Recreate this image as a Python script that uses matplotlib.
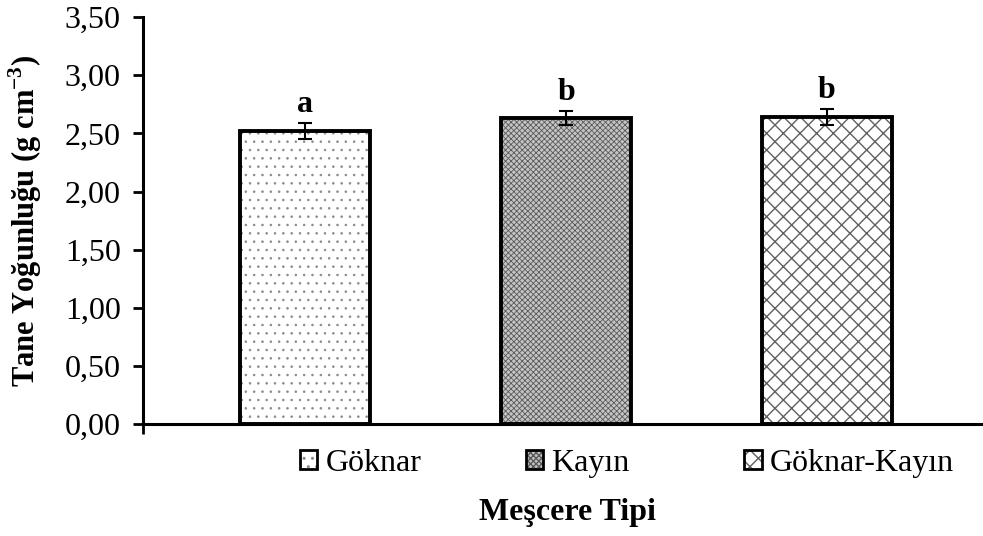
import matplotlib
matplotlib.use("Agg")
import matplotlib.pyplot as plt
from matplotlib.patches import Patch
from matplotlib.legend_handler import HandlerTuple

plt.rcParams['font.family'] = ['Liberation Serif', 'DejaVu Serif']
plt.rcParams['mathtext.fontset'] = 'custom'
plt.rcParams['mathtext.rm'] = 'Liberation Serif'
plt.rcParams['mathtext.bf'] = 'Liberation Serif:bold'

types = ['Göknar', 'Kayın', 'Göknar-Kayın']
density = [2.52, 2.63, 2.64]
err = [0.07, 0.06, 0.07]
letters = ['a', 'b', 'b']

# fill styles per stand type: face, hatch, hatch colour, hatch width
faces = ['white', '#c4c4c4', 'white']
hatches = ['..', 'xxxxxx', 'xx']
hatch_cols = ['#8a8a8a', '#5a5a5a', '#606060']
hatch_lws = [0.6, 0.6, 1.0]

fs = 23

fig = plt.figure(figsize=(9.83, 5.36), dpi=100)
ax = fig.add_axes([0.1455, 0.209, 0.8545, 0.759])

x = list(range(len(types)))
handles = []
for i in x:
    with plt.rc_context({'hatch.linewidth': hatch_lws[i]}):
        fill = ax.bar(x[i], density[i], width=0.5, color=faces[i], hatch=hatches[i],
                      edgecolor=hatch_cols[i], linewidth=0, zorder=2)
        for p in fill:
            if hasattr(p, 'set_hatch_linewidth'):
                p.set_hatch_linewidth(hatch_lws[i])
        h1 = Patch(facecolor=faces[i], hatch=hatches[i], edgecolor=hatch_cols[i], linewidth=0)
    ax.bar(x[i], density[i], width=0.5, color='none', edgecolor='black', linewidth=2.8, zorder=3)
    h2 = Patch(facecolor='none', edgecolor='black', linewidth=2.0)
    handles.append((h1, h2))

ax.errorbar(x, density, yerr=err, fmt='none', ecolor='black', elinewidth=1.5,
            capsize=5, capthick=1.5, zorder=4)

for i in x:
    ax.text(x[i], density[i] + err[i] + 0.095, letters[i], ha='center', va='baseline',
            fontsize=fs, fontweight='bold')

left, right = -0.621, 2.598
ax.set_xlim(left, right)
ax.set_ylim(0, 3.5)
ax.set_yticks([0, 0.5, 1.0, 1.5, 2.0, 2.5, 3.0, 3.5])
ax.set_yticklabels([f'{v:.2f}'.replace('.', ',') for v in ax.get_yticks()], fontsize=fs)
ax.set_xticks([left])
ax.set_xticklabels([''])
ax.tick_params(axis='y', direction='out', length=7, width=2, pad=9)
ax.tick_params(axis='x', direction='out', length=7, width=2)

for s in ['top', 'right']:
    ax.spines[s].set_visible(False)
for s in ['left', 'bottom']:
    ax.spines[s].set_linewidth(2.2)

ax.set_ylabel(r'Tane Yoğunluğu (g cm$^{\mathbf{-3}}$)', fontsize=22, fontweight='bold')
ax.yaxis.set_label_coords(-0.118, 0.5)

fig.text(0.577, 0.043, 'Meşcere Tipi', ha='center', va='center', fontsize=fs, fontweight='bold')

# legend entries, one per stand type, spread under the bars
legend_x = [0.305, 0.535, 0.757]
for i in x:
    fig.legend([handles[i]], [types[i]], loc='center left', bbox_to_anchor=(legend_x[i], 0.136),
               frameon=False, fontsize=fs, handlelength=0.55, handleheight=0.55,
               handletextpad=0.25, borderpad=0, borderaxespad=0,
               handler_map={tuple: HandlerTuple(ndivide=1)})

fig.savefig('out.png', dpi=100)
